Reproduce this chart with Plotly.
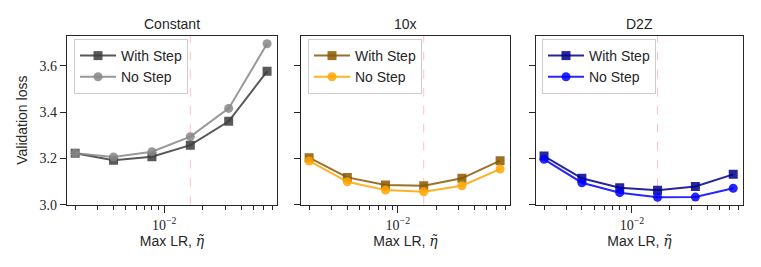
import plotly.graph_objects as go

# ---- data ----
max_lr = [0.002, 0.004, 0.008, 0.016, 0.032, 0.064]
ref_lr = 0.016
panels = ["Constant", "10x", "D2Z"]
series_names = ["With Step", "No Step"]

constant_with = [3.222, 3.192, 3.207, 3.257, 3.360, 3.576]
constant_no = [3.222, 3.206, 3.229, 3.294, 3.416, 3.695]
tenx_with = [3.203, 3.118, 3.085, 3.082, 3.114, 3.190]
tenx_no = [3.189, 3.099, 3.063, 3.056, 3.082, 3.154]
d2z_with = [3.210, 3.114, 3.073, 3.062, 3.079, 3.131]
d2z_no = [3.196, 3.095, 3.052, 3.032, 3.033, 3.071]

y_ticks = [3.0, 3.2, 3.4, 3.6]
y_tick_text = ["3.0", "3.2", "3.4", "3.6"]
x_major = [0.01]
x_major_text = ["10<sup>−2</sup>"]
x_minor = [0.002, 0.003, 0.004, 0.005, 0.006, 0.007, 0.008, 0.009,
           0.02, 0.03, 0.04, 0.05, 0.06, 0.07, 0.08, 0.09]

panel_data = [
    (constant_with, constant_no, "rgba(60,60,60,0.85)", "rgba(135,135,135,0.85)"),
    (tenx_with, tenx_no, "rgba(139,88,0,0.85)", "rgba(255,165,0,0.85)"),
    (d2z_with, d2z_no, "rgba(0,0,139,0.85)", "rgba(0,0,255,0.85)"),
]

# ---- layout geometry ----
W, H = 761, 267
x_domains = [(67 / W, 277 / W), (301 / W, 510 / W), (536 / W, 743 / W)]
y_domain = (1 - 204.7 / H, 1 - 35.7 / H)
legend_x = [74 / W, 308 / W, 542 / W]
legend_y = 1 - 39 / H

SANS = "Liberation Sans, Arial, sans-serif"
SERIF = "Liberation Serif, DejaVu Serif, serif"
AXC = "#262626"

fig = go.Figure()
layout = dict(
    width=W, height=H,
    margin=dict(l=0, r=0, t=0, b=0, autoexpand=False),
    paper_bgcolor="white", plot_bgcolor="white",
    font=dict(family=SANS, size=13, color=AXC),
    annotations=[], shapes=[],
)

for i, (title, (yw, yn, cw, cn)) in enumerate(zip(panels, panel_data)):
    k = "" if i == 0 else str(i + 1)
    xa, ya = "x" + k, "y" + k
    lg = "legend" + k
    fig.add_trace(go.Scatter(
        x=max_lr, y=yw, mode="lines+markers", name=series_names[0],
        xaxis=xa, yaxis=ya, legend=lg,
        line=dict(color=cw, width=2),
        marker=dict(symbol="square", size=9, color=cw, line=dict(width=0)),
    ))
    fig.add_trace(go.Scatter(
        x=max_lr, y=yn, mode="lines+markers", name=series_names[1],
        xaxis=xa, yaxis=ya, legend=lg,
        line=dict(color=cn, width=2),
        marker=dict(symbol="circle", size=9, color=cn, line=dict(width=0)),
    ))
    layout["xaxis" + k] = dict(
        domain=x_domains[i], anchor=ya, type="log", automargin=False,
        range=[-2.763, -1.116],
        showgrid=False, zeroline=False,
        showline=True, linecolor=AXC, linewidth=1.3, mirror=True,
        tickmode="array", tickvals=x_major, ticktext=x_major_text,
        ticks="outside", ticklen=7, tickwidth=1.2, tickcolor=AXC,
        tickfont=dict(family=SERIF, size=14, color=AXC),
        minor=dict(tickmode="array", tickvals=x_minor, ticks="outside",
                   ticklen=4, tickwidth=1, tickcolor=AXC, showgrid=False),
        title=dict(text="Max LR, <span style='font-family:DejaVu Serif'><i>η̃</i></span>",
                   font=dict(family=SANS, size=14, color=AXC), standoff=4),
    )
    layout["yaxis" + k] = dict(
        domain=y_domain, anchor=xa, range=[3.0, 3.73], automargin=False,
        showgrid=False, zeroline=False,
        showline=True, linecolor=AXC, linewidth=1.3, mirror=True,
        tickmode="array", tickvals=y_ticks, ticktext=y_tick_text,
        ticks="outside", ticklen=6, tickwidth=1.2, tickcolor=AXC,
        showticklabels=(i == 0),
        tickfont=dict(family=SERIF, size=14, color=AXC),
    )
    if i == 0:
        layout["yaxis"]["title"] = dict(text="Validation loss",
                                        font=dict(family=SANS, size=14, color=AXC),
                                        standoff=8)
    layout[lg] = dict(
        x=legend_x[i], y=legend_y, xanchor="left", yanchor="top",
        xref="paper", yref="paper",
        bgcolor="rgba(255,255,255,0.8)", bordercolor="#cccccc", borderwidth=1,
        font=dict(family=SANS, size=14, color=AXC),
        traceorder="normal", itemwidth=36, tracegroupgap=0,
    )
    layout["annotations"].append(dict(
        text=title, x=(x_domains[i][0] + x_domains[i][1]) / 2, y=1 - 24 / H,
        xref="paper", yref="paper", showarrow=False,
        xanchor="center", yanchor="middle",
        font=dict(family=SANS, size=14, color=AXC),
    ))
    layout["shapes"].append(dict(
        type="line", xref=xa, yref=ya + " domain",
        x0=ref_lr, x1=ref_lr, y0=0, y1=1,
        line=dict(color="rgba(255,60,60,0.4)", width=0.8, dash="dash"),
        layer="below",
    ))

fig.update_layout(**layout)
fig.write_html("out.html", config={"displayModeBar": False},
               post_script="document.body.style.margin='0';")
